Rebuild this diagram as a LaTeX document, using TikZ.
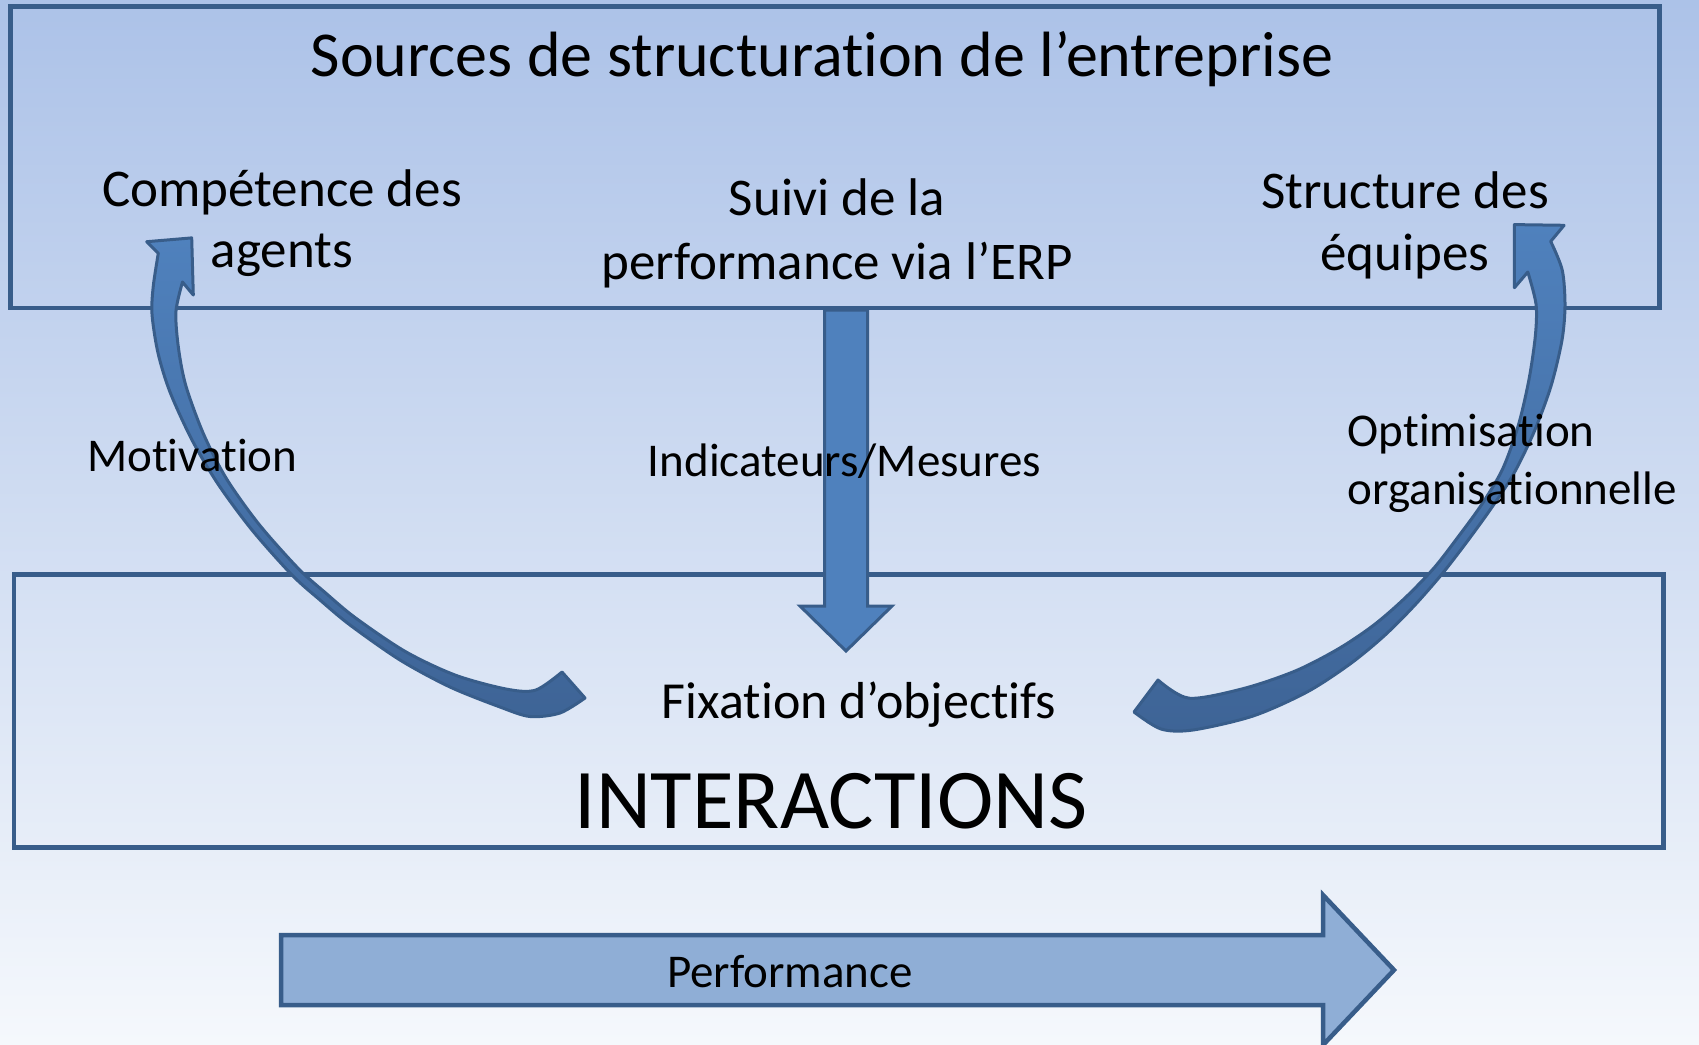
\documentclass[tikz,border=0pt]{standalone}
\usepackage{fontspec}
\setmainfont{Carlito}[Ligatures={NoCommon}]
\definecolor{bgtop}{RGB}{172,194,232}
\definecolor{bgbot}{RGB}{245,248,252}
\definecolor{edge}{RGB}{56,93,138}
\definecolor{arrowfill}{RGB}{79,129,189}
\definecolor{arrowdark}{RGB}{62,100,150}
\definecolor{perffill}{RGB}{143,174,214}
\tikzset{
  frame/.style={draw=edge, line width=4.5pt, fill=none, inner sep=0pt},
  lbl/.style={inner sep=0pt, anchor=base, text=black, font=\fontsize{#1}{#1}\selectfont},
  curvearrow/.style={draw=edge, line width=3pt, line join=round, top color=arrowfill, bottom color=arrowdark},
  blockarrow/.style={draw=edge, line join=miter, fill=#1},
}
\begin{document}
\begin{tikzpicture}[x=1pt,y=-1pt]
\useasboundingbox (0,0) rectangle (1699,1044);
\shade[top color=bgtop, bottom color=bgbot] (0,0) rectangle (1699,1044);

% boxes
\node[frame, minimum width=1649pt, minimum height=301.5pt] (srcbox) at (835,157.25) {};
\node[frame, minimum width=1649.5pt, minimum height=273pt] (interbox) at (838.75,711) {};

% vertical arrow
\path[blockarrow=arrowfill, line width=3pt]
  (824.5,310) -- (867.5,310) -- (867.5,606) -- (892,606) -- (846,651)
  -- (800,606) -- (824.5,606) -- cycle;

% performance arrow
\path[blockarrow=perffill, line width=4.5pt]
  (281,935) -- (1323,935) -- (1323,895) -- (1394,970) -- (1323,1045)
  -- (1323,1005) -- (281,1005) -- cycle;

% left curved arrow
\path[curvearrow]
  (191.7,237.9) -- (193.3,295) -- (182.5,282)
  -- plot[smooth, tension=0.5] coordinates {(182.5,282) (175.9,311.9) (178.5,348.3) (185.9,385.9) (203.5,433.9) (226.3,478.4) (259,524.3) (298.4,568.6) (325.9,593.2) (355.4,617.8) (405.3,651.5) (455.5,675.2) (506.5,689.1) (535.6,690.1) (562,672)}
  -- (585,698)
  -- plot[smooth, tension=0.5] coordinates {(585,698) (560,713) (530,716.5) (500,707) (450,687) (400,660) (350,625) (320,600) (292,575) (252,530) (218,484) (192,440) (170,392) (158,353) (152,314) (153.3,286) (158.3,253.3)}
  -- (146.7,241.7) -- cycle;

% right curved arrow
\path[curvearrow]
  (1514.4,224.6) -- (1564.1,225.3) -- (1550.7,241.4)
  -- plot[smooth, tension=0.5] coordinates {(1550.7,241.4) (1562.2,270) (1565,305) (1562,340) (1551,386) (1534,432) (1513,475) (1490,510) (1466,543) (1442,574) (1414,606) (1384,636) (1350,664) (1307,692) (1253,716) (1193,730) (1161,729) (1134,712)}
  -- (1158,680)
  -- plot[smooth, tension=0.5] coordinates {(1158,680) (1189.1,698.2) (1244,688.4) (1295.7,670.8) (1338.8,648.6) (1374,624.9) (1405.2,597.8) (1434.3,567.6) (1458,537) (1481.7,504.4) (1502.6,469) (1518.3,425.4) (1529,379.3) (1535.4,335.3) (1536,304) (1527.8,272)}
  -- (1514.4,287.7) -- cycle;

% texts
\node[lbl=64] (title) at (822,76) {Sources de structuration de l’entreprise};
\node[lbl=53] (comp1) at (282,206) {Compétence des};
\node[lbl=53] (comp2) at (282,267) {agents};
\node[lbl=53] (suivi1) at (837,215) {Suivi de la};
\node[lbl=53] (suivi2) at (837,279) {performance via l’ERP};
\node[lbl=53] (struct1) at (1405,208) {Structure des};
\node[lbl=53] (struct2) at (1405,270) {équipes};
\node[lbl=47, anchor=base west] (motiv) at (87,471) {Motivation};
\node[lbl=47] (indic) at (844.5,476) {Indicateurs/Mesures};
\node[lbl=47, anchor=base west] (optim1) at (1347.5,446) {Optimisation};
\node[lbl=47, anchor=base west] (optim2) at (1347.5,504) {organisationnelle};
\node[lbl=52] (fix) at (859,718) {Fixation d’objectifs};
\node[lbl=85] (inter) at (831,828) {INTERACTIONS};
\node[lbl=47] (perf) at (790,987) {Performance};
\end{tikzpicture}
\end{document}
